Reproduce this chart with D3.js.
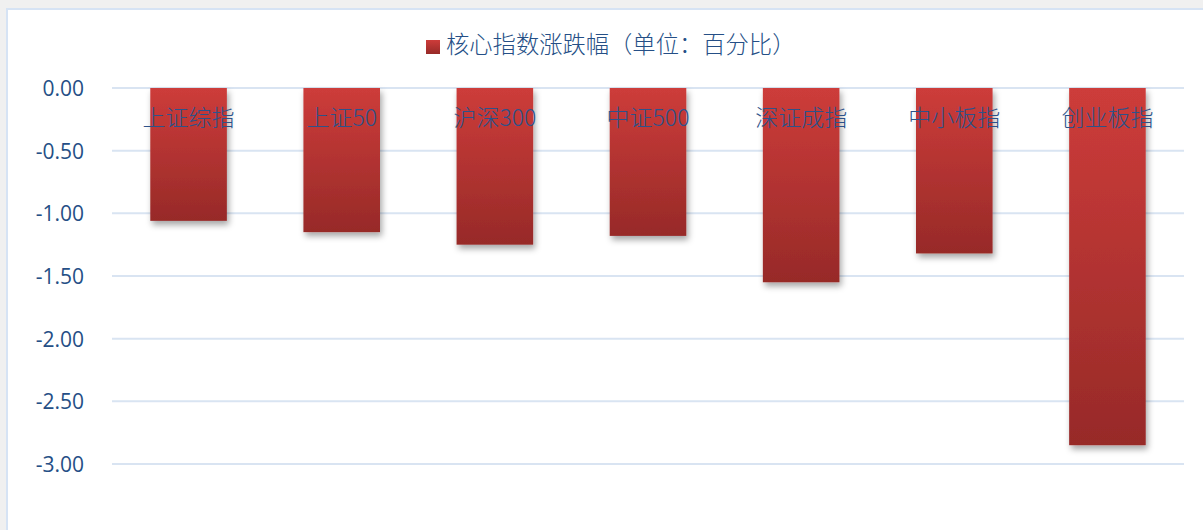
<!DOCTYPE html>
<html><head><meta charset="utf-8">
<script src="https://cdn.jsdelivr.net/npm/d3@7/dist/d3.min.js"></script>
<style>
html,body{margin:0;padding:0;background:#f0f0f0;overflow:hidden;}
svg{display:block;}
</style></head>
<body><svg id="c" width="1203" height="530"></svg>
<script>
const categories = ["上证综指","上证50","沪深300","中证500","深证成指","中小板指","创业板指"];
const values = [-1.06, -1.15, -1.25, -1.18, -1.55, -1.32, -2.85];
const yTicks = [0, -0.5, -1, -1.5, -2, -2.5, -3];
const seriesName = "核心指数涨跌幅（单位：百分比）";

const svg = d3.select("#c");
const W = 1203, H = 530;

// chart frame
svg.append("rect").attr("x",7).attr("y",9).attr("width",W).attr("height",H)
  .attr("fill","#fff").attr("stroke","#d6e3f4").attr("stroke-width",2);

const defs = svg.append("defs");
const grad = defs.append("linearGradient").attr("id","g").attr("x1",0).attr("y1",0).attr("x2",0).attr("y2",1);
grad.append("stop").attr("offset","0%").attr("stop-color","#cd3c3a");
grad.append("stop").attr("offset","100%").attr("stop-color","#972a28");
const f = defs.append("filter").attr("id","sh").attr("x","-20%").attr("y","-5%").attr("width","150%").attr("height","120%");
f.append("feDropShadow").attr("dx",2).attr("dy",4).attr("stdDeviation",3).attr("flood-color","#000").attr("flood-opacity",0.35);

const x = d3.scaleBand().domain(categories).range([112,1184]).paddingInner(0.5).paddingOuter(0.25);
const y = d3.scaleLinear().domain([0,-3]).range([88,464]);

// gridlines
svg.append("g").selectAll("line").data(yTicks).join("line")
  .attr("x1",112).attr("x2",1184).attr("y1",d=>y(d)).attr("y2",d=>y(d))
  .attr("stroke","#d9e4f2").attr("stroke-width",2);

// y axis labels
const fmt = d => d3.format(".2f")(d).replace("\u2212","-");
const yAxis = d3.axisLeft(y).tickValues(yTicks).tickFormat(fmt).tickSize(0).tickPadding(0);
const ga = svg.append("g").attr("transform","translate(84,0)").call(yAxis);
ga.select(".domain").remove();
ga.selectAll("text").attr("font-family","'Open Sans','Noto Sans',sans-serif").attr("font-size",21)
  .attr("fill","#254f86").attr("dy","0.35em");

// bars
svg.append("g").selectAll("rect").data(values).join("rect")
  .attr("x",(d,i)=>x(categories[i]))
  .attr("y",d=>y(Math.max(0,d)))
  .attr("width",x.bandwidth())
  .attr("height",d=>Math.abs(y(d)-y(0)))
  .attr("fill","url(#g)").attr("filter","url(#sh)");

// category labels
svg.append("g").selectAll("text").data(categories).join("text")
  .attr("x",d=>x(d)+x.bandwidth()/2).attr("y",120)
  .attr("text-anchor","middle").attr("dominant-baseline","middle")
  .attr("font-family","'Noto Sans CJK SC',sans-serif").attr("font-size",23).attr("font-weight",300)
  .attr("fill","#2d528a").text(d=>d);

// legend
const lg = svg.append("g");
lg.append("rect").attr("x",426).attr("y",40).attr("width",14).attr("height",14).attr("fill","url(#g)");
lg.append("text").attr("x",446).attr("y",47).attr("dominant-baseline","middle")
  .attr("font-family","'Noto Sans CJK SC',sans-serif").attr("font-size",23.3).attr("font-weight",300)
  .attr("fill","#254f86").text(seriesName);
</script></body></html>
